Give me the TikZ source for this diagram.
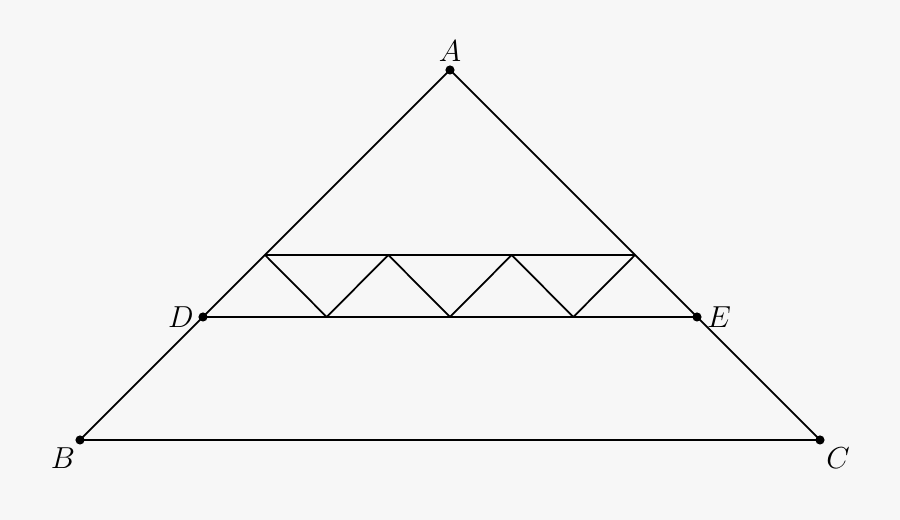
\documentclass[tikz,border=0pt]{standalone}
\usetikzlibrary{calc}
\definecolor{bgcol}{RGB}{247,247,247}
\begin{document}
\begin{tikzpicture}[
        pt/.style={circle, fill, inner sep=0pt, minimum size=5.2pt},
        lbl/.style={font=\fontsize{18}{20}\selectfont},
        seg/.style={line width=1pt, line join=round}
    ]
    \fill[bgcol] (0,0) rectangle (18,10.4);
    \useasboundingbox (0,0) rectangle (18,10.4);
    \def\h{5.3}
    \def\l{4.06}
    \node[pt] (A) at (9,9) {};
    \node[pt] (B) at (1.6,1.6) {};
    \node[pt] (C) at (16.4,1.6) {};
    \node[pt] (D) at (\l,\l) {};
    \node[pt] (E) at ({18-\l},\l) {};
    \node[lbl] (lA) at ($(A)+(0,0.37)$) {$A$};
    \node[lbl] (lB) at ($(B)+(-0.34,-0.37)$) {$B$};
    \node[lbl] (lC) at ($(C)+(0.36,-0.37)$) {$C$};
    \node[lbl] (lD) at ($(D)+(-0.44,0)$) {$D$};
    \node[lbl] (lE) at ($(E)+(0.44,0)$) {$E$};
    \draw[seg] (A.center) -- (B.center) -- (C.center) -- cycle;
    \draw[seg] (D.center) -- (E.center);
    % zigzag between the two parallels
    \foreach \i in {0,...,6}
    {
        \pgfmathsetmacro\zy{mod(\i,2)==0 ? \h : \l}
        \coordinate (Z\i) at ({\h+\i*(18-2*\h)/6},\zy);
    }
    \draw[seg] (Z0) -- (Z6);
    \draw[seg] (Z0) -- (Z1) -- (Z2) -- (Z3) -- (Z4) -- (Z5) -- (Z6);
\end{tikzpicture}
\end{document}
